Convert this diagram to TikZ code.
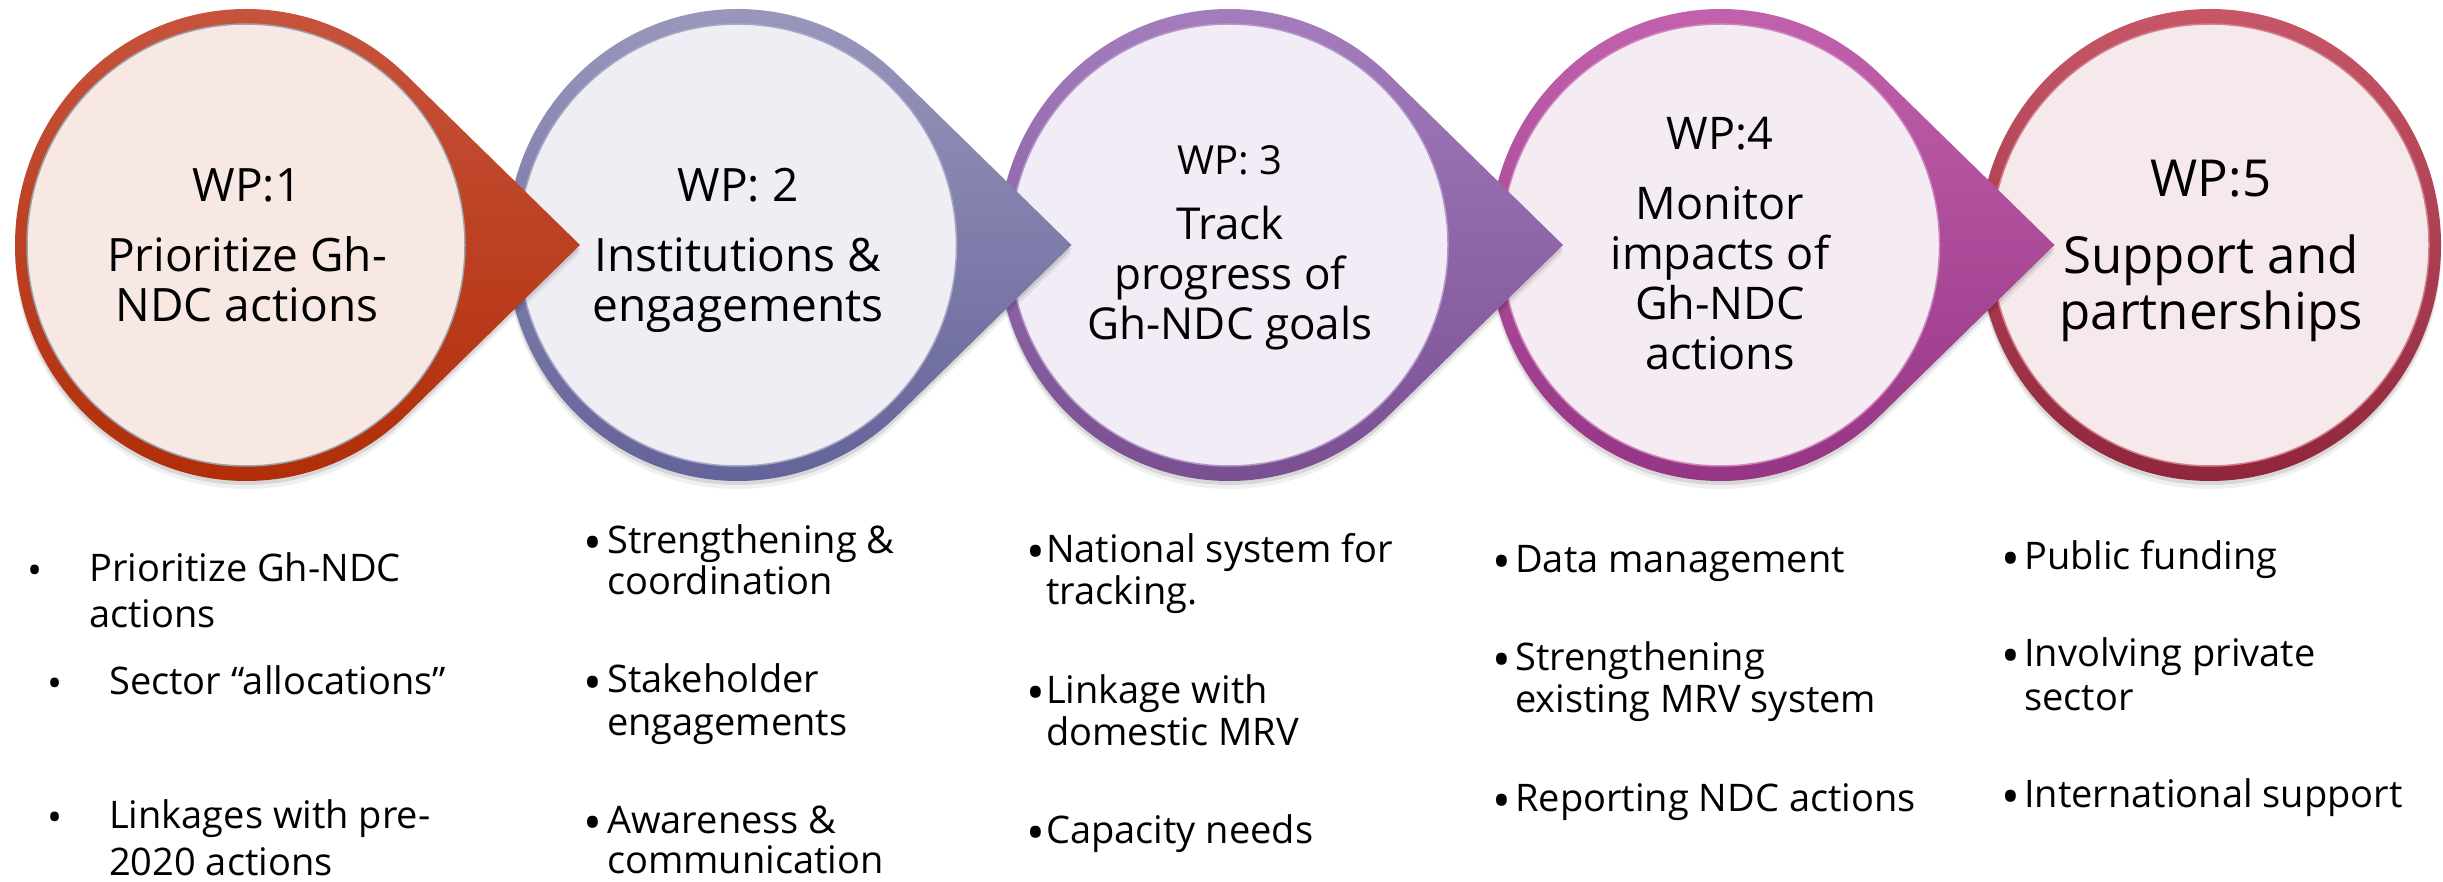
\documentclass[tikz,border=0pt]{standalone}
\usepackage{fontspec}
\setmainfont{Open Sans}
\definecolor{ra}{HTML}{C8553F}\definecolor{rb}{HTML}{B02C06}\definecolor{fa}{HTML}{F7E8E4}\definecolor{ea}{HTML}{98A2A8}
\definecolor{sa}{HTML}{9B99BD}\definecolor{sb}{HTML}{616198}\definecolor{fb}{HTML}{EFEEF4}\definecolor{eb}{HTML}{A8A7C6}
\definecolor{pa}{HTML}{A67FBF}\definecolor{pb}{HTML}{774D90}\definecolor{fc}{HTML}{F1ECF5}\definecolor{ec}{HTML}{B497C8}
\definecolor{ma}{HTML}{C463AE}\definecolor{mb}{HTML}{943383}\definecolor{fd}{HTML}{F5EBF2}\definecolor{ed}{HTML}{CF86BF}
\definecolor{ca}{HTML}{C75767}\definecolor{cb}{HTML}{90263C}\definecolor{fe}{HTML}{F5E9EB}\definecolor{ee}{HTML}{D27F8C}
\newcommand\wpshape[5]{%
  \fill[black,opacity=0.06,yshift=-8pt] (#1+334,636) -- ([shift={(#1,636)}]46:231pt and 236pt) arc[start angle=46,end angle=314,x radius=231pt,y radius=236pt] -- cycle;
  \fill[black,opacity=0.10,yshift=-4pt] (#1+334,636) -- ([shift={(#1,636)}]46:231pt and 236pt) arc[start angle=46,end angle=314,x radius=231pt,y radius=236pt] -- cycle;
  \shade[top color=#2,bottom color=#3] (#1+334,636) -- ([shift={(#1,636)}]46:231pt and 236pt) arc[start angle=46,end angle=314,x radius=231pt,y radius=236pt] -- cycle;
  \fill[#4,draw=#5,line width=1.5pt] (#1,636) ellipse[x radius=219pt,y radius=221pt];
}
\newcommand\wpcircle[5]{%
  \fill[black,opacity=0.06,yshift=-8pt] (#1,636) ellipse[x radius=231pt,y radius=236pt];
  \fill[black,opacity=0.10,yshift=-4pt] (#1,636) ellipse[x radius=231pt,y radius=236pt];
  \shade[top color=#2,bottom color=#3] (#1,636) ellipse[x radius=231pt,y radius=236pt];
  \fill[#4,draw=#5,line width=1.5pt] (#1,636) ellipse[x radius=219pt,y radius=221pt];
}
\tikzset{
  ttl/.style={anchor=base,inner sep=0pt},
  bl/.style={anchor=base west,inner sep=0pt,font=\fontsize{38}{40}\selectfont},
  dot/.style={anchor=base,inner sep=0pt,font=\fontsize{40}{40}\selectfont},
  bigdot/.style={anchor=base,inner sep=0pt,font=\fontsize{50}{50}\selectfont}
}
\begin{document}
\begin{tikzpicture}[x=1pt,y=1pt]
\useasboundingbox (0,0) rectangle (2443,881);
\fill[white] (0,0) rectangle (2443,881);
% shapes, right to left so that each arrow lies over the next circle
\wpcircle{2210}{ca}{cb}{fe}{ee}
\wpshape{1720.5}{ma}{mb}{fd}{ed}
\wpshape{1229}{pa}{pb}{fc}{ec}
\wpshape{737.5}{sa}{sb}{fb}{eb}
\wpshape{246}{ra}{rb}{fa}{ea}
% titles
\begin{scope}[font=\fontsize{46}{50}\selectfont]
\node[ttl] (t1a) at (247,679) {WP:1};
\node[ttl] (t1b) at (247,609) {Prioritize Gh-};
\node[ttl] (t1c) at (247,559) {NDC actions};
\node[ttl] (t2a) at (738,679) {WP: 2};
\node[ttl] (t2b) at (738,609) {Institutions \&};
\node[ttl] (t2c) at (738,559) {engagements};
\end{scope}
\node[ttl,font=\fontsize{40}{44}\selectfont] (t3a) at (1230,706) {WP: 3};
\begin{scope}[font=\fontsize{44}{48}\selectfont]
\node[ttl] (t3b) at (1230,641) {Track};
\node[ttl] (t3c) at (1230,591) {progress of};
\node[ttl] (t3d) at (1230,541) {Gh-NDC goals};
\end{scope}
\begin{scope}[font=\fontsize{45}{48}\selectfont]
\node[ttl] (t4a) at (1720,731) {WP:4};
\node[ttl] (t4b) at (1720,661) {Monitor};
\node[ttl] (t4c) at (1720,611) {impacts of};
\node[ttl] (t4d) at (1720,561) {Gh-NDC};
\node[ttl] (t4e) at (1720,511) {actions};
\end{scope}
\begin{scope}[font=\fontsize{51}{54}\selectfont]
\node[ttl] (t5a) at (2211,684) {WP:5};
\node[ttl] (t5b) at (2211,607) {Support and};
\node[ttl] (t5c) at (2211,551) {partnerships};
\end{scope}
% column 1
\node[dot] (d1a) at (35.5,296) {•};
\node[bl] (b1a) at (89,299) {Prioritize Gh-NDC};
\node[bl] (b1b) at (89,253) {actions};
\node[dot] (d1b) at (55.5,183) {•};
\node[bl] (b1c) at (109,186) {Sector “allocations”};
\node[dot] (d1c) at (55.5,50) {•};
\node[bl] (b1d) at (109,53) {Linkages with pre-};
\node[bl] (b1e) at (109,6) {2020 actions};
% column 2
\node[bigdot] (d2a) at (593,320) {•};
\node[bl] (b2a) at (607,327) {Strengthening \&};
\node[bl] (b2b) at (607,286) {coordination};
\node[bigdot] (d2b) at (593,181) {•};
\node[bl] (b2c) at (607,188) {Stakeholder};
\node[bl] (b2d) at (607,146) {engagements};
\node[bigdot] (d2c) at (593,41) {•};
\node[bl] (b2e) at (607,48) {Awareness \&};
\node[bl] (b2f) at (607,8) {communication};
% column 3
\node[bigdot] (d3a) at (1036,311) {•};
\node[bl] (b3a) at (1046,318) {National system for};
\node[bl] (b3b) at (1046,276) {tracking.};
\node[bigdot] (d3b) at (1036,171) {•};
\node[bl] (b3c) at (1046,178) {Linkage with};
\node[bl] (b3d) at (1046,136) {domestic MRV};
\node[bigdot] (d3c) at (1036,31) {•};
\node[bl] (b3e) at (1046,38) {Capacity needs};
% column 4
\node[bigdot] (d4a) at (1502,301) {•};
\node[bl] (b4a) at (1515,308) {Data management};
\node[bigdot] (d4b) at (1502,203) {•};
\node[bl] (b4b) at (1515,210) {Strengthening};
\node[bl] (b4c) at (1515,168) {existing MRV system};
\node[bigdot] (d4c) at (1502,63) {•};
\node[bl] (b4d) at (1515,70) {Reporting NDC actions};
% column 5
\node[bigdot] (d5a) at (2011,304) {•};
\node[bl] (b5a) at (2024,311) {Public funding};
\node[bigdot] (d5b) at (2011,207) {•};
\node[bl] (b5b) at (2024,214) {Involving private};
\node[bl] (b5c) at (2024,171) {sector};
\node[bigdot] (d5c) at (2011,67) {•};
\node[bl] (b5d) at (2024,74) {International support};
\end{tikzpicture}
\end{document}
